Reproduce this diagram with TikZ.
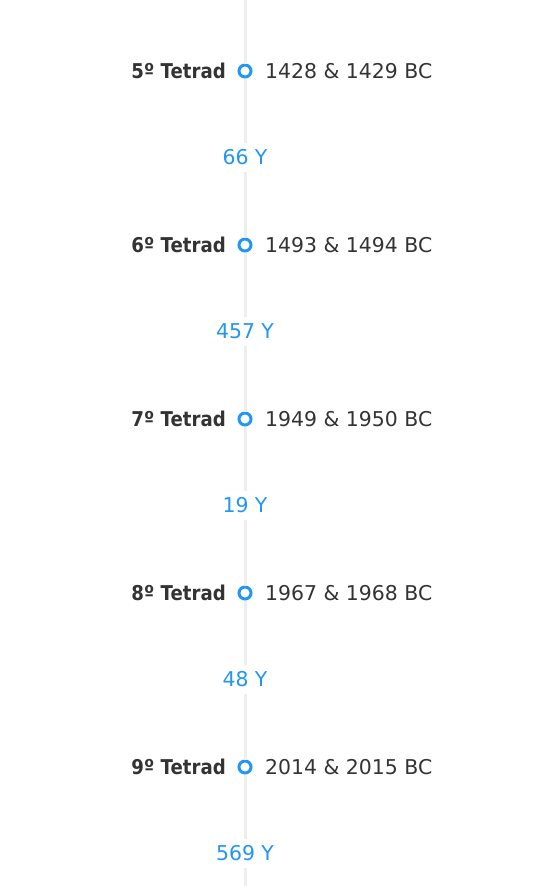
\documentclass[tikz,border=0pt]{standalone}
\usepackage{fontspec}
\setmainfont{DejaVu Sans}
\usepackage{graphicx}
\definecolor{tlblue}{HTML}{2196F3}
\definecolor{tlgray}{HTML}{EEEEEE}
\definecolor{tltext}{HTML}{333333}
\tikzset{
  tlline/.style={draw=tlgray, line width=3pt},
  dot/.style={circle, draw=tlblue, fill=white, line width=3pt, minimum size=12pt, inner sep=0pt},
  tetrad/.style={anchor=base east, inner sep=0pt, text=tltext, font=\fontsize{20.4}{24}\selectfont\bfseries},
  years/.style={anchor=base west, inner sep=0pt, text=tltext, font=\fontsize{20.4}{24}\selectfont},
  gap/.style={anchor=base, fill=white, text=tlblue, font=\fontsize{20.4}{24}\selectfont, text height=14.5pt, text depth=0pt, inner xsep=4pt, inner ysep=7pt}
}
\begin{document}
\begin{tikzpicture}[x=1pt,y=-1pt]
\useasboundingbox (0,0) rectangle (551,886);
\coordinate (top) at (245,0);
\coordinate (bot) at (245,886);
\foreach \i/\n/\a/\g in {0/5/1428 \& 1429 BC/66 Y, 1/6/1493 \& 1494 BC/457 Y, 2/7/1949 \& 1950 BC/19 Y, 3/8/1967 \& 1968 BC/48 Y, 4/9/2014 \& 2015 BC/569 Y}{
  \node[dot] (c\i) at (245,71+174*\i) {};
  \node[tetrad] (t\i) at (226,78+174*\i) {\scalebox{0.89}[1]{\n º Tetrad}};
  \node[years] (d\i) at (265,78+174*\i) {\a};
  \node[gap] (g\i) at (245,164.5+174*\i) {\g};
}
\draw[tlline] (top) -- (c0);
\draw[tlline] (c0) -- (g0);
\draw[tlline] (g0) -- (c1);
\draw[tlline] (c1) -- (g1);
\draw[tlline] (g1) -- (c2);
\draw[tlline] (c2) -- (g2);
\draw[tlline] (g2) -- (c3);
\draw[tlline] (c3) -- (g3);
\draw[tlline] (g3) -- (c4);
\draw[tlline] (c4) -- (g4);
\draw[tlline] (g4) -- (bot);
\end{tikzpicture}
\end{document}
